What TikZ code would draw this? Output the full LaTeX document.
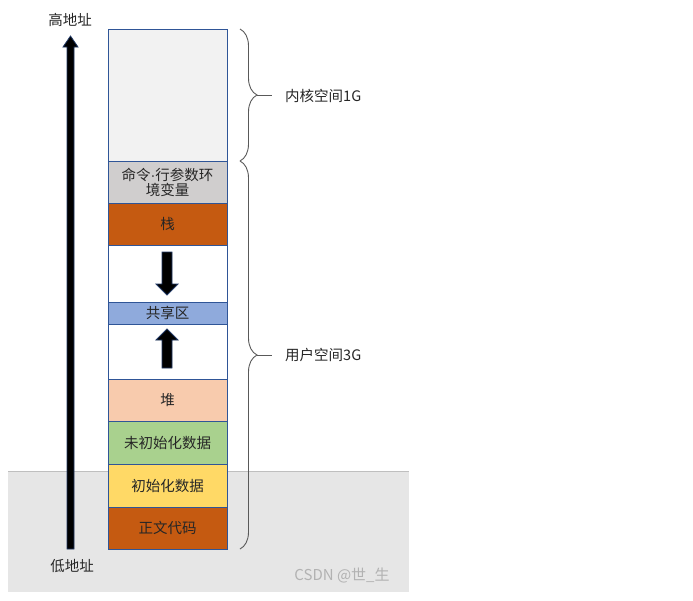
\documentclass[tikz,border=0pt]{standalone}
\usepackage{fontspec}
\setmainfont{Noto Sans CJK SC}
\newfontfamily\latinf{Liberation Sans}
\usetikzlibrary{decorations.pathreplacing}
\definecolor{bd}{HTML}{2F5597}
\definecolor{kgrey}{HTML}{F2F2F2}
\definecolor{cgrey}{HTML}{D0CECE}
\definecolor{rust}{HTML}{C55A11}
\definecolor{sblue}{HTML}{8FAADC}
\definecolor{peach}{HTML}{F8CBAD}
\definecolor{lgreen}{HTML}{A9D18E}
\definecolor{lyellow}{HTML}{FFD966}
\definecolor{bggrey}{HTML}{E6E6E6}
\definecolor{txt}{HTML}{262626}
\definecolor{brc}{HTML}{595959}
\definecolor{arrowbd}{HTML}{203864}
\tikzset{
  seg/.style={draw=bd, line width=0.9pt, rectangle, minimum width=119pt, inner sep=0pt, outer sep=0pt, text=txt, font=\fontsize{14.5}{18}\selectfont, align=center},
  lbl/.style={text=txt, font=\fontsize{14.5}{18}\selectfont, inner sep=0pt},
  brc/.style={draw=brc, line width=0.9pt, decorate, decoration={brace, amplitude=17pt}},
  stub/.style={draw=brc, line width=0.9pt},
  blk/.style={fill=black, draw=arrowbd, line width=0.8pt, line join=miter}
}
\begin{document}
\begin{tikzpicture}[x=1pt,y=-1pt]
\useasboundingbox (0,0) rectangle (693,600);
% background grey region
\fill[bggrey] (8,471) rectangle (409,592);
\draw[color=black!25, line width=0.8pt] (8,471) -- (409,471);
% segments
\node[seg, fill=kgrey, minimum height=132pt] (kern) at (167.5,95) {};
\node[seg, fill=cgrey, minimum height=42pt] (cmd) at (167.5,182) {命令{\latinf ·}行参数环\\[-3pt]境变量};
\node[seg, fill=rust, minimum height=42pt] (stack) at (167.5,224) {栈};
\node[seg, fill=white, minimum height=57pt] (gap1) at (167.5,273.5) {};
\node[seg, fill=sblue, minimum height=22pt] (shared) at (167.5,313) {共享区};
\node[seg, fill=white, minimum height=55pt] (gap2) at (167.5,351.5) {};
\node[seg, fill=peach, minimum height=42pt] (heap) at (167.5,400) {堆};
\node[seg, fill=lgreen, minimum height=43pt] (bss) at (167.5,442.5) {未初始化数据};
\node[seg, fill=lyellow, minimum height=43pt] (data) at (167.5,485.5) {初始化数据};
\node[seg, fill=rust, minimum height=42pt] (text) at (167.5,528) {正文代码};
% block arrows
\draw[blk] (162,252) -- (172,252) -- (172,284) -- (178,284) -- (167,295) -- (156,284) -- (162,284) -- cycle;
\draw[blk] (162,368) -- (172,368) -- (172,340) -- (178,340) -- (167,329) -- (156,340) -- (162,340) -- cycle;
% address arrow
\draw[blk] (67,549) -- (74,549) -- (74,47) -- (78,47) -- (70.5,36) -- (63,47) -- (67,47) -- cycle;
\node[lbl] (hi) at (70,20) {高地址};
\node[lbl] (lo) at (72,566) {低地址};
% braces
\coordinate (b1a) at (240,29);
\coordinate (b1b) at (240,161);
\coordinate (b2a) at (240,161);
\coordinate (b2b) at (240,549);
\draw[brc] (b1a) -- (b1b);
\draw[brc] (b2a) -- (b2b);
\coordinate (t1) at (257,95);
\coordinate (t1e) at (272,95);
\coordinate (t2) at (257,355);
\coordinate (t2e) at (272,355);
\draw[stub] (t1) -- (t1e);
\draw[stub] (t2) -- (t2e);
\node[lbl, anchor=west] (kl) at (285,96) {内核空间1G};
\node[lbl, anchor=west] (ul) at (285,355) {用户空间3G};
% watermark
\node[text=black!30, font=\fontsize{15}{17}\selectfont, inner sep=0pt] (wm) at (342,575) {CSDN @世\_生};
\end{tikzpicture}
\end{document}
